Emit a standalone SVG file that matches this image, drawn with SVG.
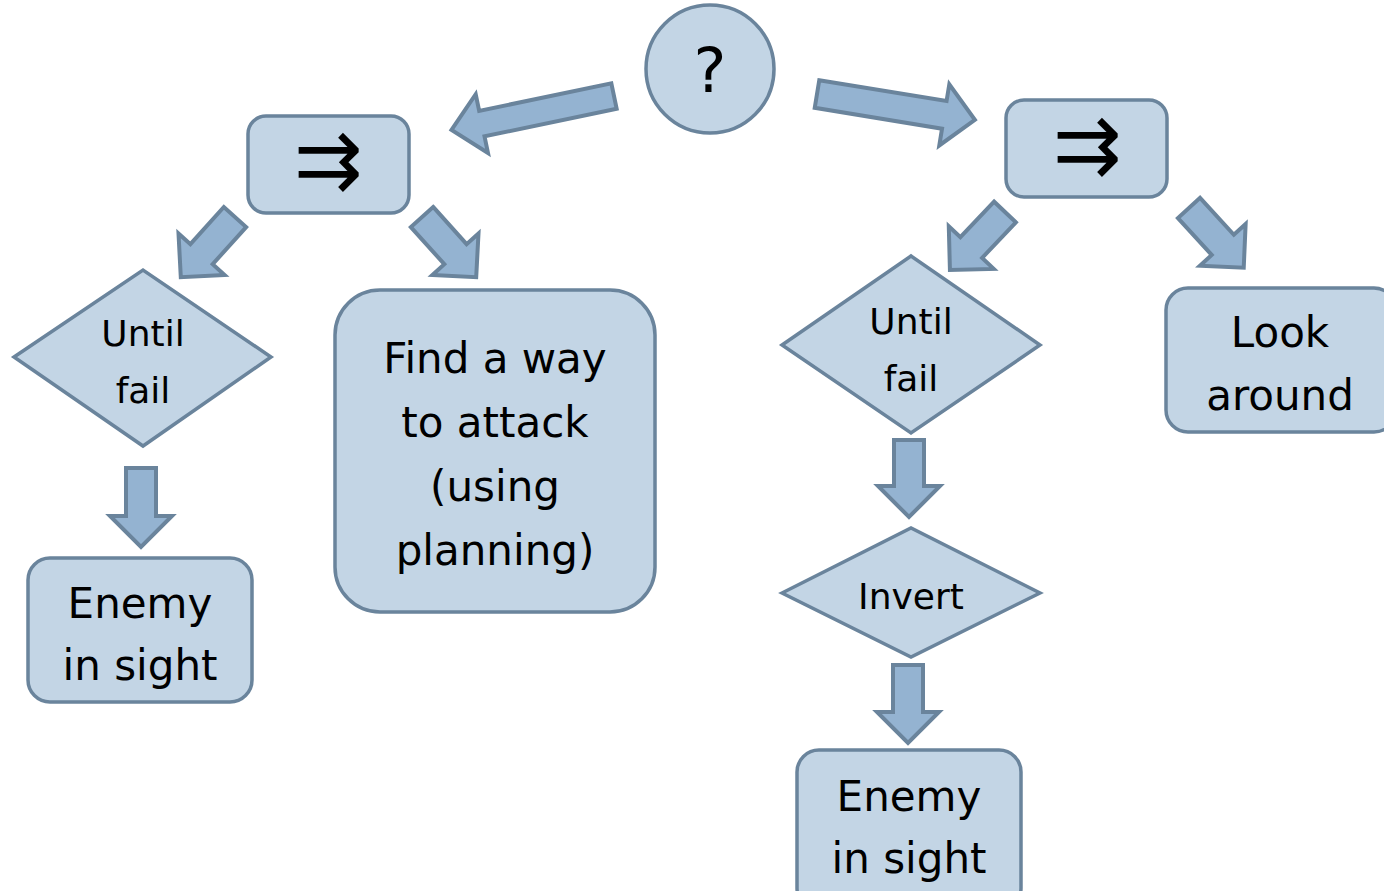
<svg xmlns="http://www.w3.org/2000/svg" width="1384" height="891" viewBox="0 0 1384 891">
<style>
.node{fill:#c3d5e5;stroke:#6a849c;stroke-width:3.5}
.arr{fill:#94b3d1;stroke:#6a849c;stroke-width:4;stroke-linejoin:miter}
.t{font-family:"DejaVu Sans",sans-serif;fill:#000;text-anchor:middle}
.big{font-size:42px}
.mid{font-size:36px}
</style>
<rect width="1384" height="891" fill="#ffffff"/>
<g id="connectors">
<polygon class="arr" transform="translate(614,96) rotate(168.2)" points="0,-13 135,-13 135,-30 166,0 135,30 135,13 0,13"/>
<polygon class="arr" transform="translate(817,94) rotate(9.3)" points="0,-14 129,-14 129,-31 160,0 129,31 129,14 0,14"/>
<polygon class="arr" transform="translate(235,217) rotate(132)" points="0,-15 50,-15 50,-31 81,0 50,31 50,15 0,15"/>
<polygon class="arr" transform="translate(422,217) rotate(48)" points="0,-15 50,-15 50,-31 81,0 50,31 50,15 0,15"/>
<polygon class="arr" transform="translate(1005,212) rotate(133.5)" points="0,-15 49,-15 49,-31 80,0 49,31 49,15 0,15"/>
<polygon class="arr" transform="translate(1189,208) rotate(47.5)" points="0,-15 50,-15 50,-31 81,0 50,31 50,15 0,15"/>
<polygon class="arr" transform="translate(141,468) rotate(90)" points="0,-15 48,-15 48,-31 79,0 48,31 48,15 0,15"/>
<polygon class="arr" transform="translate(909,440) rotate(90)" points="0,-15 46,-15 46,-31 77,0 46,31 46,15 0,15"/>
<polygon class="arr" transform="translate(908,665) rotate(90)" points="0,-15 47,-15 47,-31 78,0 47,31 47,15 0,15"/>
</g>
<g id="selector">
<ellipse class="node" cx="710" cy="69" rx="64" ry="64"/>
<text class="t" x="710" y="92" font-size="62">?</text>
</g>
<g id="seq-left">
<rect class="node" x="248" y="116" width="161" height="97" rx="18"/>
<text class="t" x="328" y="188" font-size="82">⇉</text>
</g>
<g id="seq-right">
<rect class="node" x="1006" y="100" width="161" height="97" rx="18"/>
<text class="t" x="1087" y="173" font-size="82">⇉</text>
</g>
<g id="until-fail-left">
<polygon class="node" points="14,357 143,270 271,357 143,446"/>
<text class="t mid" x="143" y="346">Until</text>
<text class="t mid" x="143" y="403">fail</text>
</g>
<g id="enemy-left">
<rect class="node" x="28" y="558" width="224" height="144" rx="22"/>
<text class="t big" x="140" y="618" font-size="40">Enemy</text>
<text class="t big" x="140" y="680">in sight</text>
</g>
<g id="find-way">
<rect class="node" x="335" y="290" width="320" height="322" rx="45"/>
<text class="t big" x="495" y="373">Find a way</text>
<text class="t big" x="495" y="437">to attack</text>
<text class="t big" x="495" y="501">(using</text>
<text class="t big" x="495" y="565">planning)</text>
</g>
<g id="until-fail-right">
<polygon class="node" points="782,345 911,256 1040,345 911,433"/>
<text class="t mid" x="911" y="334">Until</text>
<text class="t mid" x="911" y="391">fail</text>
</g>
<g id="look-around">
<rect class="node" x="1166" y="288" width="230" height="144" rx="22"/>
<text class="t big" x="1280" y="347">Look</text>
<text class="t big" x="1280" y="410">around</text>
</g>
<g id="invert">
<polygon class="node" points="782,593 911,528 1040,593 911,657"/>
<text class="t mid" x="911" y="609">Invert</text>
</g>
<g id="enemy-right">
<rect class="node" x="797" y="750" width="224" height="160" rx="22"/>
<text class="t big" x="909" y="811">Enemy</text>
<text class="t big" x="909" y="873">in sight</text>
</g>
</svg>
